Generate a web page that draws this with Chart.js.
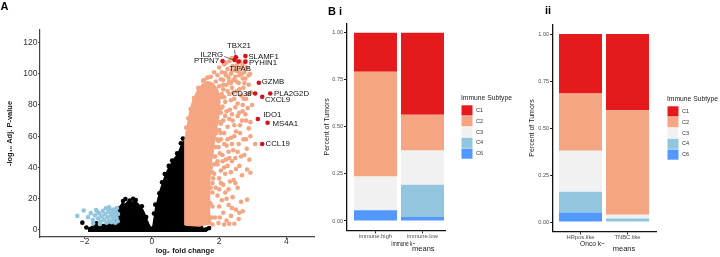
<!DOCTYPE html>
<html><head><meta charset="utf-8">
<script src="https://cdn.jsdelivr.net/npm/chart.js@4.4.1/dist/chart.umd.min.js"></script>
<style>
html,body{margin:0;padding:0;background:#fff;width:720px;height:257px;overflow:hidden}
.box{position:absolute;top:0;height:257px}
canvas{display:block}
</style></head><body>
<div class="box" style="left:0;width:330px"><canvas id="cA" width="330" height="257"></canvas></div>
<div class="box" style="left:290px;width:240px"><canvas id="cB1" width="240" height="257"></canvas></div>
<div class="box" style="left:520px;width:200px"><canvas id="cB2" width="200" height="257"></canvas></div>
<script>
// ---------------- DATA ----------------
// Panel A: volcano plot (log2 fold change, -log10 adj. p-value)
const volcanoXTicks = [-2, 0, 2, 4];
const volcanoYTicks = [0, 20, 40, 60, 80, 100, 120];

const geneNames   = ['PTPN7','IL2RG','TBX21','TIFAB','SLAMF1','PYHIN1','GZMB','CD38','PLA2G2D','CXCL9','IDO1','MS4A1','CCL19'];
const geneLog2FC  = [2.10, 2.46, 2.50, 2.58, 2.78, 2.78, 3.18, 3.07, 3.52, 3.28, 3.15, 3.44, 3.28];
const geneNegLogP = [108.1, 108.8, 110.5, 107.8, 111.4, 107.6, 94.2, 87.4, 87.4, 85.2, 71.0, 68.6, 55.0];

// dense non-significant cloud (outline of the solid black mass)
const nsCloudOutline = [[-1.9,-0.8],[-1.88,1.2],[-1.75,2.6],[-1.5,3.3],[-1.25,3.8],[-1.08,5],[-1.06,11],[-1.02,14],[-0.95,15],[-0.88,17.2],[-0.8,16.3],[-0.72,18.2],[-0.62,17.4],[-0.52,18.6],[-0.43,17],[-0.35,15.2],[-0.27,12.8],[-0.2,9.5],[-0.14,6],[-0.08,3],[-0.02,1.2],[0.03,2.5],[0.07,8],[0.11,14],[0.17,19],[0.24,25],[0.32,30],[0.4,35],[0.48,39],[0.56,42],[0.64,45],[0.72,47],[0.8,50],[0.87,54],[0.93,56.5],[0.98,57],[0.98,3.2],[1.15,3],[1.35,2.2],[1.55,1],[1.6,-0.8],[-1.9,-0.8]];
const nsPoints = [[-2.07,4.7],[-1.65,4.3],[-1.95,1.6],[-1.8,0.5],[-0.97,13.8],[-0.86,18.5],[-0.79,19.8],[-0.56,20],[-0.48,19.2],[-0.66,18.8],[-0.3,15.2],[-0.17,8.3],[0.06,10.5],[0.1,16.2],[0.22,23.5],[0.3,30.5],[0.38,35.8],[0.5,41],[0.6,44.5],[0.75,49],[0.86,55.5],[0.92,58.5],[1.2,3.3],[1.45,2.4],[1.7,1.2],[1.62,0.5]];
// down-regulated genes
const downPoints = [[-2.22,9],[-2.03,12.5],[-1.9,8.2],[-1.82,10.8],[-1.76,6.4],[-1.7,9.3],[-1.66,12.8],[-1.6,7.3],[-1.57,10.6],[-1.53,5.2],[-1.5,8.6],[-1.46,12.1],[-1.43,6.6],[-1.4,10],[-1.37,13.9],[-1.35,4.6],[-1.32,8.1],[-1.3,11.5],[-1.27,6],[-1.25,13.2],[-1.22,9.2],[-1.2,4.9],[-1.18,11.1],[-1.15,7.1],[-1.13,13],[-1.11,9.6],[-1.09,4.6],[-1.07,11.6],[-1.05,7.6],[-1.04,14.1],[-1.02,5.6],[-1.01,10.2],[-1.55,3.8],[-1.75,4.2],[-1.62,11.5],[-1.28,14.5]];
// up-regulated genes: dense core outline + individual points
const upCloudOutline = [[0.98,3.2],[0.98,57],[1.05,66],[1.12,75],[1.22,83],[1.35,89],[1.5,93],[1.65,95],[1.8,94],[1.95,90],[2.02,82],[1.98,72],[1.9,62],[1.82,52],[1.76,42],[1.72,32],[1.7,22],[1.72,12],[1.75,4],[1.4,2.6],[0.98,3.2]];
const upPoints = [
 [1.75,98],[1.85,101],[1.95,99],[2.0,104],[2.08,101],[2.15,106],[2.2,99],[2.25,103],[2.3,108],[2.35,100],[2.4,105],[2.42,96],[2.5,102],[2.55,107],[2.6,99],[2.65,104],[2.7,97],[2.75,101],[2.82,104],[2.88,99],[2.3,95],[2.12,96],[1.9,95],[2.45,109],[2.62,108],
 [1.4,90],[1.45,84],[1.52,92],[1.58,87],[1.62,81],[1.7,93],[1.75,86],[1.8,90],[1.88,83],[1.92,88],[2.0,92],[2.05,85],[2.12,90],[2.18,82],[2.22,93],[2.3,87],[2.38,91],[2.45,84],[2.52,89],[2.58,94],[2.65,86],[2.72,91],[2.8,84],[2.88,93],[2.95,88],[1.3,82],[1.55,96],
 [1.25,78],[1.4,79],[1.55,77],[1.62,70],[1.68,75],[1.75,66],[1.82,78],[1.9,71],[1.98,76],[2.05,68],[2.1,79],[2.18,73],[2.25,66],[2.32,77],[2.4,70],[2.48,78.5],[2.55,73],[2.62,67],[2.7,76],[2.73,84],[2.8,70],[2.93,69],[2.85,78],[1.72,80],[2.0,64],
 [1.6,63],[1.65,55],[1.72,60],[1.78,50],[1.82,57],[1.88,47],[1.92,62],[1.98,53],[2.05,58],[2.1,48],[2.15,62],[2.22,54],[2.3,46],[2.35,59],[2.42,51],[2.5,63],[2.58,55],[2.65,47],[2.72,58],[2.82,52],[2.93,60],[3.07,55],[2.2,45],[1.95,44],
 [1.75,40],[1.8,30],[1.85,36],[1.9,27],[1.95,42],[2.0,33],[2.05,38],[2.12,29],[2.18,36],[2.25,41],[2.32,31],[2.43,32],[2.5,39],[2.55,27],[2.68,35],[2.83,38.7],[2.93,36.6],[2.1,44],[2.38,44],
 [1.95,22],[2.0,15],[2.02,8],[2.08,19],[2.12,11],[2.18,24],[2.22,6],[2.28,16],[2.35,9],[2.4,21],[2.5,13],[2.58,7],[2.65,18],[2.83,19.4],[2.45,4],[2.15,3.5],[1.98,4.5],
 [1.02,65.5],[1.08,71.5],[1.15,77.5],[1.25,84.5],[1.38,91],[1.52,95.5],[1.65,97.5],[1.97,86],[2.06,78],[2.03,69],[1.95,58],[1.86,47],[1.79,37],[1.75,27],[1.74,17],[1.77,8],[1.8,3.5],
 [2.05,96.5],[2.18,100.5],[2.28,97.5],[2.38,102],[2.48,98],[2.58,101.5],[2.68,100],[2.78,97],[2.12,93],[2.35,94],[2.52,95],[2.75,94],[2.08,87],[2.25,89],[2.42,88],[2.6,90],[2.85,87],[2.15,85],[2.35,83],[2.55,81],[2.7,80],[2.05,75],[2.22,76],[2.38,74],[2.6,75],[2.78,74],[2.12,70],[2.3,71],[2.45,67],[2.68,70],[2.88,65],[2.05,62],[2.25,58],[2.45,60],[2.62,62],[2.8,58],[1.98,57],[2.15,55],[2.38,55],[2.55,50],[2.75,48],[1.88,53],[2.02,49],[2.28,50],[2.48,46],[1.85,42],[2.15,40],[2.35,37],[2.6,41],[1.82,33],[2.05,30],[2.28,26],[2.48,30],[1.8,24],[2.0,26],[2.22,20],[2.38,14],[2.6,11],[1.8,15],[1.88,8],[2.3,4],[2.7,12],[2.9,45],[2.98,80],[2.92,100],
 [2.2,107],[2.38,110],[2.52,105],[2.7,106],[2.78,108.5]
];

// Panel B: share of tumors per immune subtype
const subtypes = ['C1','C2','C3','C4','C6'];
const proportionTicks = [0, 0.25, 0.5, 0.75, 1];
const immuneGroups = ['immune.high', 'immune.low'];
const immuneC1 = [0.207, 0.436];
const immuneC2 = [0.557, 0.190];
const immuneC3 = [0.179, 0.181];
const immuneC4 = [0.000, 0.172];
const immuneC6 = [0.057, 0.021];
const oncoGroups = ['HRpos.like', 'TNBC.like'];
const oncoC1 = [0.317, 0.405];
const oncoC2 = [0.304, 0.556];
const oncoC3 = [0.218, 0.021];
const oncoC4 = [0.110, 0.018];
const oncoC6 = [0.051, 0.000];

// ---------------- STYLE ----------------
const FONT = '"Liberation Sans", Arial, Helvetica, sans-serif';
Chart.defaults.font.family = FONT;
const COL = {ns:'#000000', down:'#92C5DE', up:'#F4A582', hit:'#D7101E'};
const subtypeColors = {C1:'#E41A1C', C2:'#F4A582', C3:'#F1F1F1', C4:'#92C5DE', C6:'#5298FF'};
const toXY = arr => arr.map(p => ({x:p[0], y:p[1]}));

function textPlugin(items){
  return {id:'panelText', afterDraw(chart){
    const ctx = chart.ctx;
    items.forEach(t => {
      ctx.save();
      ctx.font = (t.weight||'normal') + ' ' + t.size + 'px ' + FONT;
      ctx.fillStyle = t.color || '#1a1a1a';
      ctx.textAlign = t.align || 'left';
      ctx.textBaseline = 'middle';
      if (t.maxWidth) ctx.fillText(t.text, t.x, t.y, t.maxWidth); else ctx.fillText(t.text, t.x, t.y);
      ctx.restore();
    });
  }};
}

// label placement (pixel offsets from each highlighted point)
const labelPlacement = {
  PTPN7:{dx:-3.5,dy:0,align:'right'}, IL2RG:{dx:-11.5,dy:-5.5,align:'right',leader:'side'},
  TBX21:{dx:3,dy:-11.5,align:'center',leader:'up'}, TIFAB:{dx:1.5,dy:7.5,align:'center'},
  SLAMF1:{dx:3,dy:0.5,align:'left'}, PYHIN1:{dx:3.5,dy:0.5,align:'left'}, GZMB:{dx:2.8,dy:-0.5,align:'left'},
  CD38:{dx:-3.5,dy:0,align:'right'}, PLA2G2D:{dx:3.7,dy:0,align:'left'}, CXCL9:{dx:2.7,dy:3.3,align:'left'},
  IDO1:{dx:5.3,dy:-4,align:'left'}, MS4A1:{dx:5,dy:1.3,align:'left'}, CCL19:{dx:3.4,dy:0.3,align:'left'}
};
const geneLabelPlugin = {id:'geneLabels', afterDatasetsDraw(chart){
  const ctx = chart.ctx, xs = chart.scales.x, ys = chart.scales.y;
  ctx.save();
  ctx.font = '7.8px ' + FONT; ctx.fillStyle = '#111'; ctx.textBaseline = 'middle';
  ctx.strokeStyle = '#333'; ctx.lineWidth = 0.7;
  geneNames.forEach((g,i) => {
    const px = xs.getPixelForValue(geneLog2FC[i]), py = ys.getPixelForValue(geneNegLogP[i]);
    const L = labelPlacement[g];
    ctx.textAlign = L.align;
    ctx.fillText(g, px + L.dx, py + L.dy);
    if (L.leader === 'side') { ctx.beginPath(); ctx.moveTo(px + L.dx + 1, py + L.dy + 2); ctx.lineTo(px - 1, py); ctx.stroke(); }
    if (L.leader === 'up') { ctx.beginPath(); ctx.moveTo(px - 1.5, py + L.dy + 4); ctx.lineTo(px - 0.5, py - 1); ctx.stroke(); }
  });
  ctx.restore();
}};

// ---------------- PANEL A ----------------
const pt = {pointRadius:2.3, pointHoverRadius:2.3, pointBorderWidth:0};
new Chart(document.getElementById('cA'), {
  type:'scatter',
  data:{datasets:[
    Object.assign({label:'labelled', data: geneLog2FC.map((x,i)=>({x, y:geneNegLogP[i]})), pointBackgroundColor:COL.hit, order:0}, pt),
    Object.assign({label:'up', data: toXY(upPoints), pointBackgroundColor:COL.up, order:1}, pt),
    {type:'line', label:'up core', data: toXY(upCloudOutline), fill:'shape', backgroundColor:COL.up, borderColor:COL.up, borderWidth:1.5, pointRadius:0, tension:0, order:2},
    Object.assign({label:'down', data: toXY(downPoints), pointBackgroundColor:COL.down, order:3}, pt),
    Object.assign({label:'ns', data: toXY(nsPoints), pointBackgroundColor:COL.ns, order:4}, pt),
    {type:'line', label:'ns core', data: toXY(nsCloudOutline), fill:'shape', backgroundColor:COL.ns, borderColor:COL.ns, borderWidth:1.5, pointRadius:0, tension:0, order:5}
  ]},
  options:{
    responsive:false, animation:false, events:[],
    layout:{padding:{top:30, right:15.7, left:0, bottom:0}},
    plugins:{legend:{display:false}, tooltip:{enabled:false}},
    scales:{
      x:{type:'linear', min:-3.33, max:4.83,
        afterBuildTicks:s=>{s.ticks = volcanoXTicks.map(v=>({value:v}));},
        afterFit:s=>{s.height = 20;},
        ticks:{callback:v => v < 0 ? '\u2212' + Math.abs(v) : String(v), font:{size:8.5, lineHeight:1}, color:'#333', padding:-1.5, maxRotation:0, autoSkip:false},
        grid:{display:true, drawOnChartArea:false, drawTicks:true, tickLength:2, color:'#444'},
        border:{display:true, color:'#444', width:1.2}},
      y:{type:'linear', min:-4.5, max:128,
        afterBuildTicks:s=>{s.ticks = volcanoYTicks.map(v=>({value:v}));},
        afterFit:s=>{s.width = 40;},
        ticks:{font:{size:8.5}, color:'#333', padding:0.5, autoSkip:false},
        grid:{display:true, drawOnChartArea:false, drawTicks:true, tickLength:2, color:'#444'},
        border:{display:true, color:'#444', width:1.2},
        title:{display:true, text:'-log\u2081\u2080 Adj. P-value', font:{size:7.5, weight:'bold'}, color:'#1a1a1a', padding:{top:5, bottom:0}}}
    }
  },
  plugins:[geneLabelPlugin, textPlugin([
    {text:'A', x:0.5, y:6.5, size:11, weight:'bold', color:'#000'},
    {text:'log\u2082 fold change', x:185, y:251, size:7.5, weight:'bold', align:'center'}
  ])]
});

// ---------------- PANEL B ----------------
function legendPlugin(L){
  return {id:'subtypeLegend', afterDraw(chart){
    const ctx = chart.ctx;
    ctx.save();
    ctx.textBaseline = 'middle'; ctx.textAlign = 'left';
    ctx.font = '7.2px ' + FONT; ctx.fillStyle = '#1a1a1a';
    ctx.fillText('Immune Subtype', L.x, L.titleY, 51);
    subtypes.forEach((s,i) => {
      const top = L.boxTop + i * L.step;
      ctx.fillStyle = subtypeColors[s];
      ctx.fillRect(L.x + 0.5, top + 0.3, 11, L.step - 0.6);
      ctx.font = '5.5px ' + FONT; ctx.fillStyle = '#333';
      ctx.fillText(s, L.x + 15, top + L.step / 2);
    });
    ctx.restore();
  }};
}

function makeBarChart(id, groups, series, L, texts){
  const datasets = subtypes.slice().reverse().map(s => ({
    label:s,
    data: groups.map((g,i) => ({x:i+1, y:series[s][i]})),
    backgroundColor: subtypeColors[s], borderWidth:0,
    barPercentage:0.915, categoryPercentage:1
  }));
  const axisGrid = {display:true, drawOnChartArea:false, drawTicks:true, tickLength:3, color:'#222', offset:false};
  return new Chart(document.getElementById(id), {
    type:'bar',
    data:{datasets},
    options:{
      responsive:false, animation:false, events:[],
      layout:{padding:{left:0, top:L.top, right:L.right, bottom:0}},
      plugins:{legend:{display:false}, tooltip:{enabled:false}},
      scales:{
        x:{type:'linear', stacked:true, offset:false, min:L.xmin, max:L.xmax,
          afterBuildTicks:s=>{s.ticks = groups.map((g,i)=>({value:i+1}));},
          afterFit:s=>{s.height = L.xh;},
          ticks:{callback:v => groups[Math.round(v)-1], font:{size:5.8, lineHeight:1}, color:'#4d4d4d', padding:0.3, maxRotation:0, autoSkip:false},
          grid:axisGrid, border:{display:true, color:'#111', width:1.3}},
        y:{type:'linear', stacked:true, min:-0.05, max:1.05,
          afterBuildTicks:s=>{s.ticks = proportionTicks.map(v=>({value:v}));},
          afterFit:s=>{s.width = L.yw;},
          ticks:{callback:v => Number(v).toFixed(2), font:{size:5.5}, color:'#4d4d4d', padding:1, autoSkip:false},
          grid:axisGrid, border:{display:true, color:'#111', width:1.3},
          title:{display:true, text:'Percent of Tumors', font:{size:7}, color:'#222', padding:{top:L.ytp, bottom:0}}}
      }
    },
    plugins:[legendPlugin(L.legend), textPlugin(texts)]
  });
}

makeBarChart('cB1', immuneGroups,
  {C1:immuneC1, C2:immuneC2, C3:immuneC3, C4:immuneC4, C6:immuneC6},
  {top:23.3, right:85, xh:26.6, yw:57, ytp:32.5, xmin:0.394, xmax:2.479,
   legend:{x:171, titleY:98, boxTop:105, step:10.8}},
  [{text:'B i', x:38, y:12, size:11, weight:'bold', color:'#000'},
   {text:'Immune k\u2212', x:113.3, y:244.3, size:7.5, align:'center', maxWidth:24},
   {text:'means', x:133.3, y:248.5, size:7.5, align:'center'}]);

makeBarChart('cB2', oncoGroups,
  {C1:oncoC1, C2:oncoC2, C3:oncoC3, C4:oncoC4, C6:oncoC6},
  {top:24.6, right:64, xh:25.6, yw:33, ytp:7.5, xmin:0.415, xmax:2.606,
   legend:{x:147, titleY:99, boxTop:106, step:10.8}},
  [{text:'ii', x:25, y:11, size:11, weight:'bold', color:'#000'},
   {text:'Onco k\u2212', x:72.5, y:244, size:7.5, align:'center', maxWidth:25},
   {text:'means', x:104, y:249, size:7.5, align:'center'}]);
</script>
</body></html>
